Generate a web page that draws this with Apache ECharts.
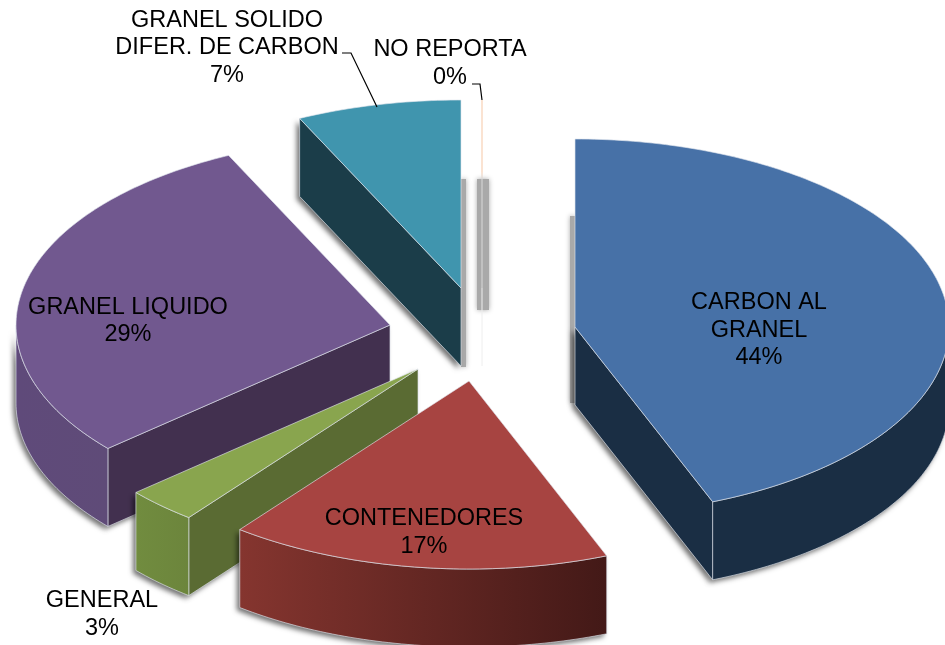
<!DOCTYPE html>
<html>
<head>
<meta charset="utf-8">
<style>
  html, body { margin: 0; padding: 0; background: #fff; overflow: hidden; }
  #pie { width: 945px; height: 645px; }
</style>
<script src="https://cdn.jsdelivr.net/npm/echarts@6/dist/echarts.min.js"></script>
</head>
<body>
<div id="pie"></div>
<script>
var categories = ['CARBON AL\nGRANEL', 'CONTENEDORES', 'GENERAL', 'GRANEL LIQUIDO', 'GRANEL SOLIDO\nDIFER. DE CARBON', 'NO REPORTA'];
// labels only show whole percents, decimals
var values = [44, 16.5, 3.1, 29.3, 7.1, 0];

// layout: every slice is pulled out of the pie on its own
var centers = [[575, 327], [469, 381], [418, 369], [390, 325], [461, 288], [482, 288]];
var labelPos = [[759, 330.5], [424, 532.5], [102, 614.5], [128, 321], [227, 48], [450, 63.5]];
var drawOrder = [3, 2, 1, 4, 5, 0];
var rx = 374, ry = 188, depth = 78;

var topColors = ['#4771a7', '#a74441', '#89a54e', '#71588f', '#4095ae', '#f6c7a5'];
var faceColors = ['#1a2e44', '#431917', '#5a6b33', '#42304f', '#1b3d49', '#eeeeee'];
var arcColors = [
  ['#1a2e44', '#1a2e44'],
  ['#85352f', '#431917'],
  ['#718c3f', '#6c853c'],
  ['#5f4a7a', '#5f4b78'],
  ['#1b3d49', '#1b3d49'],
  ['#eeeeee', '#eeeeee']
];
var edge = 'rgba(225,230,238,0.8)';

var total = values.reduce(function (a, b) { return a + b; }, 0);

function rad(d) { return d * Math.PI / 180; }

function pt(c, deg, dy) {
  return [c[0] + rx * Math.sin(rad(deg)), c[1] - ry * Math.cos(rad(deg)) + (dy || 0)];
}

function arcPoints(c, from, to, dy) {
  var pts = [];
  for (var d = from; d < to; d += 1) pts.push(pt(c, d, dy));
  pts.push(pt(c, to, dy));
  return pts;
}

function startAngle(i) {
  var sum = 0;
  for (var k = 0; k < i; k++) sum += values[k];
  return sum / total * 360;
}

function poly(points, fill, stroke, shadow) {
  var style = { fill: fill, stroke: stroke || null, lineWidth: 0.8 };
  if (shadow) {
    style.shadowColor = 'rgba(0,0,0,0.55)';
    style.shadowBlur = 5;
    style.shadowOffsetX = -3;
    style.shadowOffsetY = 3;
  }
  return { type: 'polygon', shape: { points: points }, style: style };
}

function radialFace(c, deg) {
  var p = pt(c, deg);
  return [c, p, [p[0], p[1] + depth], [c[0], c[1] + depth]];
}

function renderSlice(params, api) {
  var i = api.value(0);
  var c = centers[i];
  var a0 = startAngle(i);
  var a1 = a0 + api.value(1) / total * 360;
  var children = [];

  // 0% slice is only a hairline, pale where it crosses the grey streak
  if (api.value(1) === 0) {
    var stroke = new echarts.graphic.LinearGradient(0, c[1] - ry, 0, c[1], [
      { offset: 0, color: topColors[i] },
      { offset: 0.38, color: topColors[i] },
      { offset: 0.42, color: '#d9d9d9' },
      { offset: 1, color: '#d9d9d9' }
    ], true);
    children.push({ type: 'line', shape: { x1: c[0], y1: c[1], x2: c[0], y2: c[1] + depth }, style: { stroke: faceColors[i], lineWidth: 1 } });
    children.push({ type: 'line', shape: { x1: c[0], y1: c[1] - ry, x2: c[0], y2: c[1] }, style: { stroke: stroke, lineWidth: 1 } });
    return { type: 'group', children: children };
  }

  var sides = [];
  if (a0 > 180 && a0 < 360) sides.push(poly(radialFace(c, a0), faceColors[i], edge));
  if (a1 > 0 && a1 < 180) sides.push(poly(radialFace(c, a1), faceColors[i], edge));

  var from = Math.max(a0, 90), to = Math.min(a1, 270);
  if (from < to) {
    var pts = arcPoints(c, from, to, 0).concat(arcPoints(c, from, to, depth).reverse());
    var fill = new echarts.graphic.LinearGradient(0, 0, 1, 0, [
      { offset: 0, color: arcColors[i][0] },
      { offset: 1, color: arcColors[i][1] }
    ]);
    sides.push(poly(pts, fill, edge));
  }

  // shadow pass first, so it only lands outside the slice
  sides.forEach(function (s) {
    children.push(poly(s.shape.points, '#888', null, true));
  });
  children = children.concat(sides);

  var topPts = [c].concat(arcPoints(c, a0, a1, 0));
  children.push(poly(topPts, topColors[i], edge));
  return { type: 'group', children: children };
}

function renderLabel(params, api) {
  var i = api.value(0);
  return {
    type: 'text',
    x: labelPos[i][0],
    y: labelPos[i][1],
    style: {
      text: categories[i] + '\n' + Math.round(api.value(1)) + '%',
      fill: '#000',
      font: '23.5px "Liberation Sans", Arial, sans-serif',
      lineHeight: 27.5,
      align: 'center',
      verticalAlign: 'middle'
    }
  };
}

var chart = echarts.init(document.getElementById('pie'), null, { renderer: 'canvas' });

var seriesData = drawOrder.map(function (i) { return [i, values[i]]; });

var streak = { fill: '#a9a9a9', shadowColor: '#a9a9a9', shadowBlur: 5 };

var option = {
  animation: false,
  backgroundColor: '#fff',
  graphic: {
    elements: [
      // grey streaks left by the original picture's shadows
      { type: 'rect', shape: { x: 477, y: 179, width: 12, height: 131 }, style: streak },
      { type: 'rect', shape: { x: 461, y: 179, width: 5, height: 188 }, style: streak },
      { type: 'rect', shape: { x: 570, y: 216, width: 5, height: 187 }, style: streak },
      // leader lines
      { type: 'polyline', z: 10, shape: { points: [[342, 53], [351, 53], [377, 107]] }, style: { stroke: '#000', lineWidth: 1.2, fill: null } },
      { type: 'polyline', z: 10, shape: { points: [[472, 84], [480, 84], [482, 100]] }, style: { stroke: '#000', lineWidth: 1.2, fill: null } }
    ]
  },
  series: [
    {
      type: 'custom',
      coordinateSystem: 'none',
      renderItem: renderSlice,
      data: seriesData,
      silent: true,
      z: 2
    },
    {
      type: 'custom',
      coordinateSystem: 'none',
      renderItem: renderLabel,
      data: seriesData,
      silent: true,
      z: 3
    }
  ]
};

chart.setOption(option);
</script>
</body>
</html>
